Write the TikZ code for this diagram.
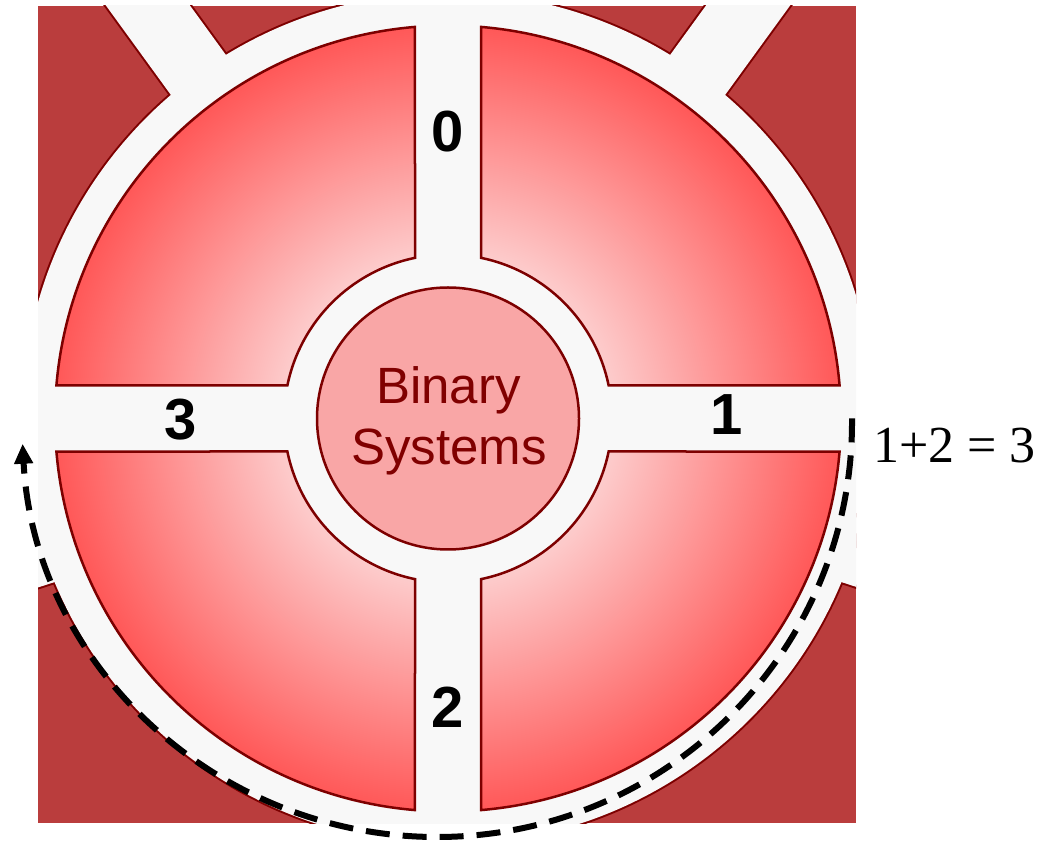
\documentclass[tikz,border=0pt]{standalone}
\usepackage{fontspec}
\setmainfont{Liberation Sans}
\newfontfamily\timesf{Liberation Serif}
\usetikzlibrary{arrows.meta}
\definecolor{bgred}{RGB}{186,61,61}
\definecolor{outl}{RGB}{125,0,0}
\definecolor{ringw}{RGB}{248,248,248}
\definecolor{hubpink}{RGB}{249,166,166}
\definecolor{hubtext}{RGB}{128,0,0}
\pgfdeclareradialshading{wheelshade}{\pgfpoint{0bp}{0bp}}{rgb(0bp)=(1,0.97,0.97); rgb(10.4bp)=(0.99,0.80,0.80); rgb(25bp)=(1,0.345,0.345); rgb(50bp)=(1,0.345,0.345)}
\begin{document}
\begin{tikzpicture}[x=1pt,y=1pt,
  digit/.style={font=\fontsize{58}{58}\selectfont\bfseries, text=black, inner sep=0pt},
  hubtxt/.style={font=\fontsize{51}{61}\selectfont, text=hubtext, anchor=base, inner sep=0pt},
  ringline/.style={draw=outl, line width=4pt},
  sectorline/.style={draw=outl, line width=2.5pt, line join=miter},
  cycleflow/.style={draw=black, line width=6pt, dash pattern=on 24pt off 13pt, -{Triangle[length=20pt,width=18pt]}}]
\useasboundingbox (0,0) rectangle (1039,841);
\coordinate (C) at (448,422.5);
\begin{scope}
  \clip (38,18) rectangle (856,835);
  \fill[bgred] (38,18) rectangle (856,835);
  \begin{scope}[shift={(448,422.5)}]
    % outline of white ring and spokes
    \draw[ringline] (0,0) circle (426);
    \foreach \a in {54,126,198,270,342}
      \draw[ringline, rotate=\a] (0,-34) rectangle (700,34);
    \fill[ringw] (0,0) circle (426);
    \foreach \a in {54,126,198,270,342}
      \fill[ringw, rotate=\a] (0,-34) rectangle (700,34);
    % shaded sectors
    \begin{scope}
      \clip \foreach \k in {0,90,180,270} {
        (85.18+\k:393) arc[start angle=85.18+\k, end angle=4.82+\k, radius=393]
        -- (11.61+\k:164) arc[start angle=11.61+\k, end angle=78.39+\k, radius=164] -- cycle };
      \shade[shading=wheelshade] (0,0) circle (393);
    \end{scope}
    \foreach \k in {0,90,180,270}
      \draw[sectorline] (85.18+\k:393) arc[start angle=85.18+\k, end angle=4.82+\k, radius=393]
        -- (11.61+\k:164) arc[start angle=11.61+\k, end angle=78.39+\k, radius=164] -- cycle;
    \node[circle, draw=outl, fill=hubpink, line width=2.5pt, minimum size=262pt, inner sep=0pt] (hub) at (0,0) {};
  \end{scope}
  \node[hubtxt] (bin1) at (448.5,437) {Binary};
  \node[hubtxt] (bin2) at (449,376) {Systems};
  \node[digit] (l0) at (447.5,709.5) {0};
  \node[digit] (l1) at (727,426) {1};
  \node[digit] (l2) at (447.5,134) {2};
  \node[digit] (l3) at (181,421) {3};
\end{scope}
\node[font=\timesf\fontsize{52}{52}\selectfont, anchor=base, inner sep=0pt] (eq) at (954.5,378) {1+2 = 3};
\coordinate (arcS) at (852,422.6);
\draw[cycleflow] (arcS) arc[start angle=0.5, end angle=-177, radius=415] coordinate (arcE);
\end{tikzpicture}
\end{document}
